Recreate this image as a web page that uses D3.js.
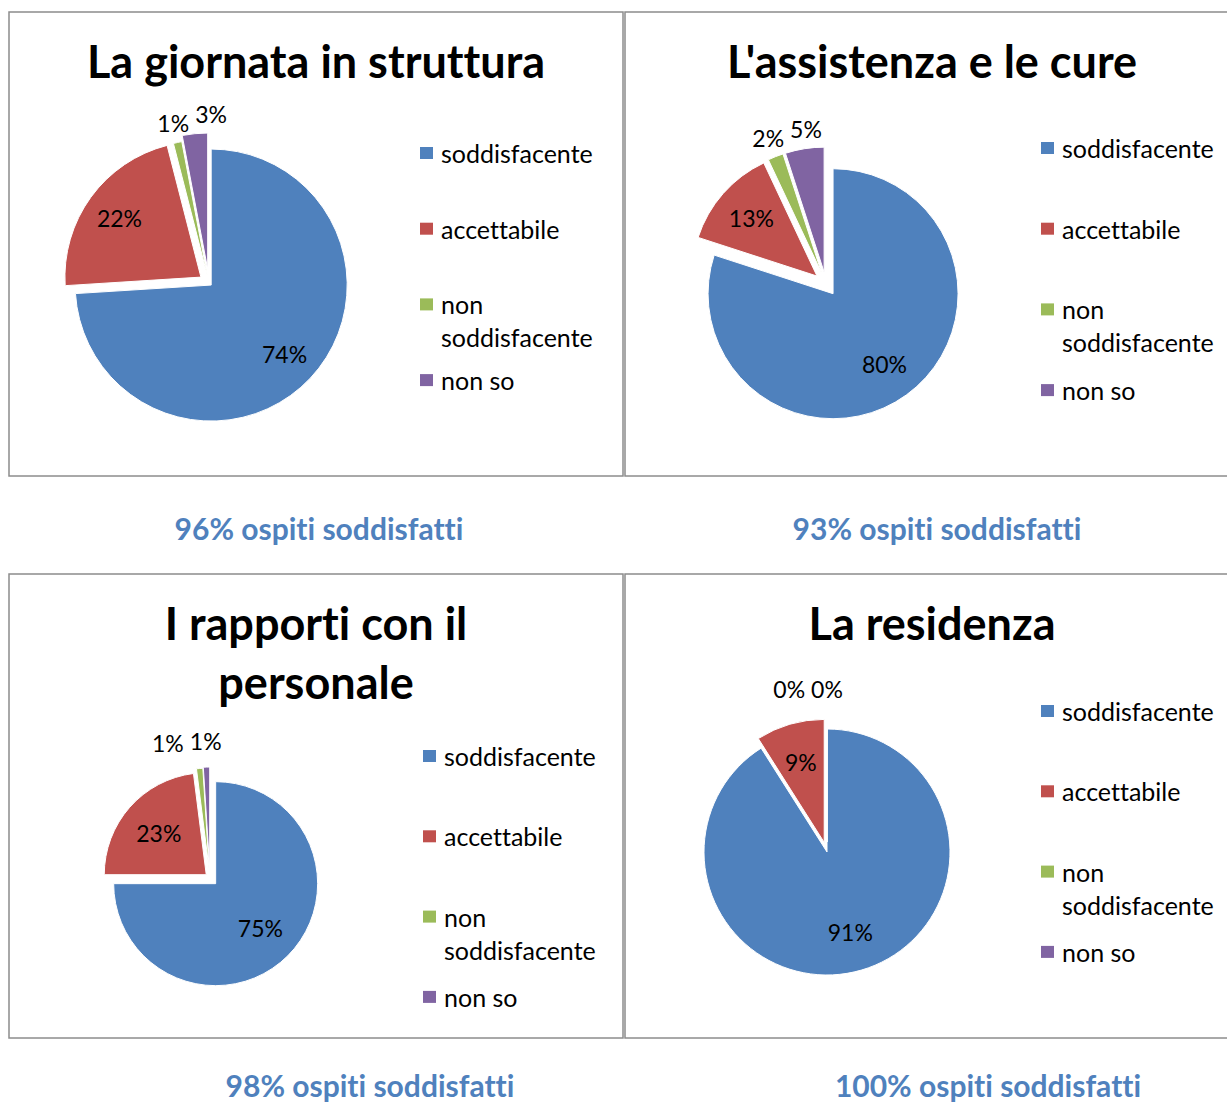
<!DOCTYPE html>
<html>
<head>
<meta charset="utf-8">
<script src="https://cdn.jsdelivr.net/npm/d3@7"></script>
<style>
  body { margin: 0; background: #fff; }
  svg { display: block; font-family: Lato, "Open Sans", sans-serif; font-variant-ligatures: none; }
</style>
</head>
<body>
<svg id="chart" width="1227" height="1104"></svg>
<script>
// categories shared by all four pies
const categories = ["soddisfacente", "accettabile", "non soddisfacente", "non so"];
const titles = ["La giornata in struttura", "L'assistenza e le cure", "I rapporti con il personale", "La residenza"];
const captions = ["96% ospiti soddisfatti", "93% ospiti soddisfatti", "98% ospiti soddisfatti", "100% ospiti soddisfatti"];

// percentages per category
const giornataValues = [74, 22, 1, 3];
const assistenzaValues = [80, 13, 2, 5];
const rapportiValues = [75, 23, 1, 1];
const residenzaValues = [91, 9, 0, 0];

const color = d3.scaleOrdinal()
    .domain(categories)
    .range(["#4f81bd", "#c0504d", "#9bbb59", "#8064a2"]);

// layout of each panel (box, pie centre/radius, slice explosion, legend, caption)
let panels = [
    {values: giornataValues, x: 9, y: 12, cx: 209, cy: 283, r: 136, explode: [3, 10, 8, 14], inner: 0.74, outer: 20,
        legX: 420, legY: 153, legStep: 75.7, capX: 319, capY: 540},
    {values: assistenzaValues, x: 625, y: 12, cx: 826, cy: 284, r: 125, explode: [12, 12, 12, 12], inner: 0.7, outer: 20,
        legX: 1041, legY: 148, legStep: 80.7, capX: 937, capY: 540},
    {values: rapportiValues, x: 9, y: 574, cx: 210, cy: 878, r: 102, explode: [8, 5, 8, 9], inner: 0.62, outer: 26,
        legX: 423, legY: 756, legStep: 80.3, capX: 370, capY: 1097},
    {values: residenzaValues, x: 625, y: 574, cx: 827, cy: 852, r: 123, explode: [0, 10, 10, 10], inner: 0.68, outer: 30,
        legX: 1041, legY: 711, legStep: 80.3, capX: 988, capY: 1097}
];
const panelW = 614, panelH = 464;

const svg = d3.select("#chart");
const pie = d3.pie().sort(null).value(d => d.value);

// split a string into lines no wider than maxW, measuring with a temp text node
function wrap(str, maxW, size, weight) {
    let probe = svg.append("text").style("font-size", size + "px").style("font-weight", weight);
    let words = str.split(" "), lines = [], line = "";
    words.forEach(w => {
        let test = line ? line + " " + w : w;
        probe.text(test);
        if (line && probe.node().getComputedTextLength() > maxW) {
            lines.push(line);
            line = w;
        } else {
            line = test;
        }
    });
    lines.push(line);
    probe.remove();
    return lines;
}

panels.forEach((p, pi) => {
    let g = svg.append("g");

    g.append("rect")
        .attr("x", p.x).attr("y", p.y)
        .attr("width", panelW).attr("height", panelH)
        .attr("fill", "#fff")
        .attr("stroke", "#8c8c8c")
        .attr("stroke-width", 1.5);

    // title
    let tLines = wrap(titles[pi], 480, 45, "bold");
    g.append("text")
        .attr("text-anchor", "middle")
        .style("font-size", "45px").style("font-weight", "bold")
        .selectAll("tspan")
        .data(tLines)
        .enter().append("tspan")
        .attr("x", p.x + panelW / 2)
        .attr("y", (d, i) => p.y + 66 + i * 59)
        .text(d => d);

    let data = categories.map((c, i) => ({cat: c, value: p.values[i], explode: p.explode[i]}));
    let arcs = pie(data);
    let arc = d3.arc().innerRadius(0).outerRadius(p.r);
    let dir = a => [Math.sin(a), -Math.cos(a)];

    let pieG = g.append("g").attr("transform", "translate(" + p.cx + "," + p.cy + ")");

    pieG.selectAll("path")
        .data(arcs)
        .enter().append("path")
        .attr("d", arc)
        .attr("transform", d => {
            let m = dir((d.startAngle + d.endAngle) / 2);
            return "translate(" + m[0] * d.data.explode + "," + m[1] * d.data.explode + ")";
        })
        .attr("fill", d => color(d.data.cat))
        .attr("stroke", "#fff")
        .attr("stroke-width", 1);

    // data labels: big slices inside, small ones outside
    let labels = arcs.map(d => {
        let mid = (d.startAngle + d.endAngle) / 2;
        let m = dir(mid);
        let inside = d.data.value > 6;
        let dist = inside ? d.data.explode + p.inner * p.r : p.r + d.data.explode + p.outer;
        return {d: d, inside: inside, x: m[0] * dist, y: m[1] * dist};
    });

    let lbl = pieG.selectAll("text.lbl")
        .data(labels)
        .enter().append("text")
        .attr("class", "lbl")
        .attr("text-anchor", "middle")
        .attr("dominant-baseline", "central")
        .style("font-size", "23px")
        .attr("fill", "#000")
        .text(d => d.d.data.value + "%");

    lbl.each(function(d) { d.w = this.getComputedTextLength(); });

    // separate crowded outside labels: the bigger slice's label moves out, ties move left
    let outs = labels.filter(d => !d.inside);
    for (let i = outs.length - 2; i >= 0; i--) {
        let a = outs[i], b = outs[i + 1];
        let need = (a.w + b.w) / 2 + 6;
        if (Math.abs(b.x - a.x) < need && Math.abs(b.y - a.y) < 24) {
            if (b.d.data.value > a.d.data.value) b.x = a.x + need;
            else a.x = b.x - need;
        }
    }
    lbl.attr("x", d => d.x).attr("y", d => d.y);

    // legend
    let leg = g.selectAll("g.leg")
        .data(categories)
        .enter().append("g")
        .attr("class", "leg")
        .attr("transform", (d, i) => "translate(" + p.legX + "," + (p.legY + i * p.legStep) + ")");

    leg.append("rect")
        .attr("x", 0).attr("y", -6)
        .attr("width", 13).attr("height", 12)
        .attr("fill", d => color(d));

    leg.append("text")
        .style("font-size", "25px")
        .attr("dominant-baseline", "central")
        .selectAll("tspan")
        .data(d => wrap(d, 170, 25, "normal"))
        .enter().append("tspan")
        .attr("x", 21)
        .attr("y", (d, i) => i * 33)
        .text(d => d);

    // caption under the panel
    svg.append("text")
        .attr("x", p.capX).attr("y", p.capY)
        .attr("text-anchor", "middle")
        .style("font-size", "30px").style("font-weight", "bold")
        .attr("fill", "#4f81bd")
        .text(captions[pi]);
});
</script>
</body>
</html>
